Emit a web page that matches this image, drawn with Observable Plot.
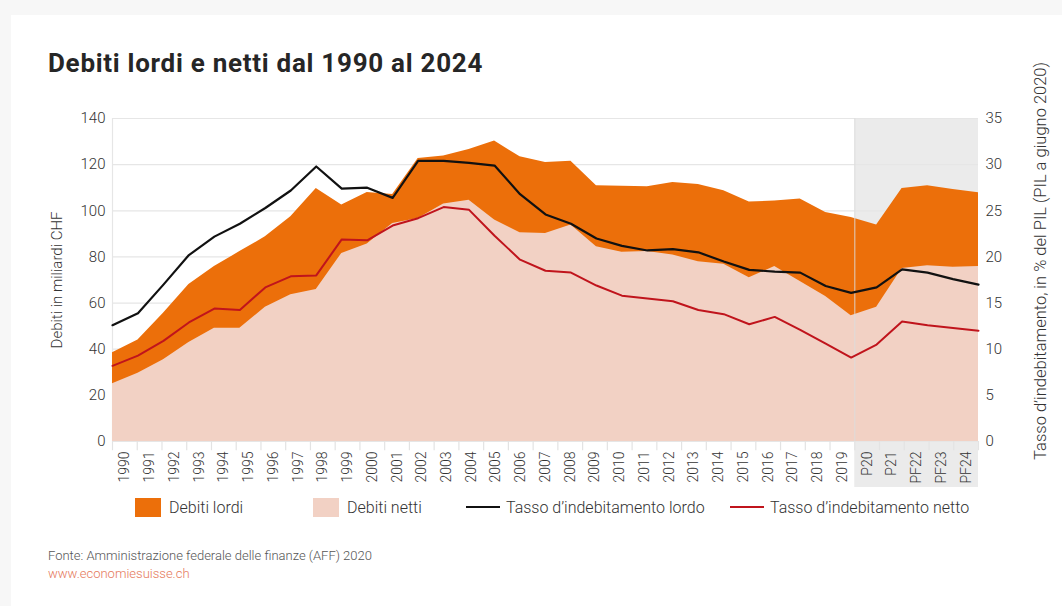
<!DOCTYPE html>
<html>
<head>
<meta charset="utf-8">
<script src="https://cdn.jsdelivr.net/npm/d3@7"></script>
<script src="https://cdn.jsdelivr.net/npm/@observablehq/plot@0.6"></script>
<style>
  html, body { margin: 0; padding: 0; background: #f7f7f7; width: 1062px; height: 606px; overflow: hidden; }
  #card { position: absolute; left: 11px; top: 15px; width: 1051px; height: 591px; background: #fff; font-family: Roboto, "DejaVu Sans", sans-serif; }
  #title { position: absolute; left: 37px; top: 33px; font-size: 26px; font-weight: 700; color: #262626; white-space: nowrap; letter-spacing: 0.72px; }
  #chart { position: absolute; left: 0; top: 85px; }
  #legend { position: absolute; top: 482px; left: 0; width: 1051px; height: 20px; font-size: 16px; font-weight: 300; color: #333; }
  .li { position: absolute; top: 0; display: flex; align-items: center; white-space: nowrap; height: 20px; }
  .sw { width: 26px; height: 19px; margin-right: 8px; }
  .ln { width: 34px; height: 2.5px; margin-right: 6px; }
  #source { position: absolute; left: 37px; top: 532px; font-size: 13px; font-weight: 300; color: #555; line-height: 18px; }
  #source .url { color: #e5785a; }
</style>
</head>
<body>
<div id="card">
  <div id="title">Debiti lordi e netti dal 1990 al 2024</div>
  <div id="chart"></div>
  <div id="legend"></div>
  <div id="source">Fonte: Amministrazione federale delle finanze (AFF) 2020<br><span class="url">www.economiesuisse.ch</span></div>
</div>
<script>
// ---- Data ----
const categories = ["1990","1991","1992","1993","1994","1995","1996","1997","1998","1999",
  "2000","2001","2002","2003","2004","2005","2006","2007","2008","2009",
  "2010","2011","2012","2013","2014","2015","2016","2017","2018","2019",
  "P20","P21","PF22","PF23","PF24"];
// Debiti lordi (miliardi CHF)
const grossDebt = [38.5,44.0,55.6,68.1,75.8,82.3,88.7,97.4,109.7,102.5,
  107.9,107.1,122.7,123.7,126.6,130.2,123.4,120.9,121.5,110.8,
  110.6,110.4,112.3,111.4,108.7,103.8,104.2,105.1,99.3,97.1,
  93.8,109.7,110.8,109.2,107.8];
// Debiti netti (miliardi CHF)
const netDebt = [25.0,29.6,35.4,42.9,49.1,49.1,58.2,63.6,65.9,81.5,
  85.6,94.5,96.7,102.9,104.6,96.0,90.5,90.2,93.8,84.4,
  82.0,82.3,80.8,77.9,76.8,71.0,75.8,69.3,62.8,54.5,
  58.2,75.0,76.2,75.5,75.8];
// Tasso d'indebitamento lordo (% PIL)
const grossRate = [12.6,13.9,17.0,20.2,22.2,23.6,25.3,27.2,29.8,27.4,
  27.5,26.4,30.4,30.4,30.2,29.9,26.8,24.6,23.6,22.0,
  21.2,20.7,20.85,20.5,19.5,18.6,18.4,18.3,16.85,16.1,
  16.7,18.65,18.3,17.6,17.0];
// Tasso d'indebitamento netto (% PIL)
const netRate = [8.2,9.3,10.9,12.9,14.4,14.25,16.7,17.9,18.0,21.9,
  21.8,23.4,24.2,25.4,25.1,22.3,19.7,18.5,18.3,16.9,
  15.8,15.5,15.2,14.25,13.8,12.7,13.5,12.1,10.6,9.1,
  10.5,13.0,12.6,12.3,12.0];
const leftTicks = [0,20,40,60,80,100,120,140];
const rightTicks = [0,5,10,15,20,25,30,35];
const forecastStart = "P20";
const leftLabel = "Debiti in miliardi CHF";
const rightLabel = "Tasso d\u2019indebitamento, in % del PIL (PIL a giugno 2020)";

const colors = { gross: "#ec6f0a", net: "#f2d1c4", grossLine: "#111111", netLine: "#c0141c" };
const legendItems = [
  { label: "Debiti lordi", type: "sw", color: colors.gross, left: 124 },
  { label: "Debiti netti", type: "sw", color: colors.net, left: 302 },
  { label: "Tasso d\u2019indebitamento lordo", type: "ln", color: colors.grossLine, left: 455 },
  { label: "Tasso d\u2019indebitamento netto", type: "ln", color: colors.netLine, left: 719 }
];

// ---- Build ----
const n = categories.length;
const last = n - 1;
const rows = categories.map((c, i) => ({ i, c, gross: grossDebt[i], net: netDebt[i], gr: grossRate[i], nr: netRate[i] }));
const ratio = 140 / 35; // right axis to left axis
const band = last / n;   // width of one category band in index units
const fIdx = categories.indexOf(forecastStart);

const chart = Plot.plot({
  width: 1051,
  height: 400,
  marginLeft: 101,
  marginRight: 84,
  marginTop: 18,
  marginBottom: 59,
  x: { domain: [0, last], axis: null },
  y: { domain: [0, 140], axis: null },
  style: { fontFamily: "Roboto, 'DejaVu Sans', sans-serif", overflow: "visible", background: "transparent" },
  marks: [
    Plot.rect([fIdx], { x1: d => d * band, x2: last, y1: 0, y2: 140, fill: "#ebebeb", insetBottom: -46 }),
    Plot.ruleY(leftTicks, { stroke: "#e6e6e6", strokeWidth: 1.2 }),
    Plot.ruleX([0], { y1: 0, y2: 140, stroke: "#e6e6e6", strokeWidth: 1.2 }),
    Plot.ruleX(d3.range(n + 1), { x: k => k * band, y1: 0, y2: -4, stroke: "#e3e3e3", strokeWidth: 1.2 }),
    Plot.areaY(rows, { x: "i", y: "gross", fill: colors.gross }),
    Plot.areaY(rows, { x: "i", y: "net", fill: colors.net }),
    Plot.ruleX([fIdx], { x: d => d * band, y1: 0, y2: 140, stroke: "#dcdcdc", strokeOpacity: 0.75, strokeWidth: 1.2 }),
    Plot.line(rows, { x: "i", y: d => d.gr * ratio, stroke: colors.grossLine, strokeWidth: 2.2 }),
    Plot.line(rows, { x: "i", y: d => d.nr * ratio, stroke: colors.netLine, strokeWidth: 2 }),
    // x tick labels (band centred)
    Plot.text(rows, { x: d => (d.i + 0.5) * band, y: 0, text: "c", rotate: -90, textAnchor: "end", dy: 10, fontSize: 14, fontWeight: 300, fill: "#333" }),
    // left tick labels
    Plot.text(leftTicks, { x: 0, y: d => d, text: d => String(d), textAnchor: "end", dx: -7, fontSize: 15, fontWeight: 300, fill: "#333" }),
    // right tick labels
    Plot.text(rightTicks, { x: last, y: d => d * ratio, text: d => String(d), textAnchor: "start", dx: 7, fontSize: 15, fontWeight: 300, fill: "#333" }),
    // axis titles
    Plot.text([leftLabel], { frameAnchor: "left", textAnchor: "middle", text: d => d, rotate: -90, dx: -55, fontSize: 15, fontWeight: 300, fill: "#333" }),
    Plot.text([rightLabel], { frameAnchor: "right", textAnchor: "middle", text: d => d, rotate: -90, dx: 62, dy: -19, fontSize: 16.5, fontWeight: 300, fill: "#333" })
  ]
});
document.getElementById("chart").appendChild(chart);

const legend = document.getElementById("legend");
for (const it of legendItems) {
  const el = document.createElement("div");
  el.className = "li";
  el.style.left = it.left + "px";
  const sw = document.createElement("span");
  sw.className = it.type;
  sw.style.background = it.color;
  el.appendChild(sw);
  const t = document.createElement("span");
  t.textContent = it.label;
  el.appendChild(t);
  legend.appendChild(el);
}
</script>
</body>
</html>
